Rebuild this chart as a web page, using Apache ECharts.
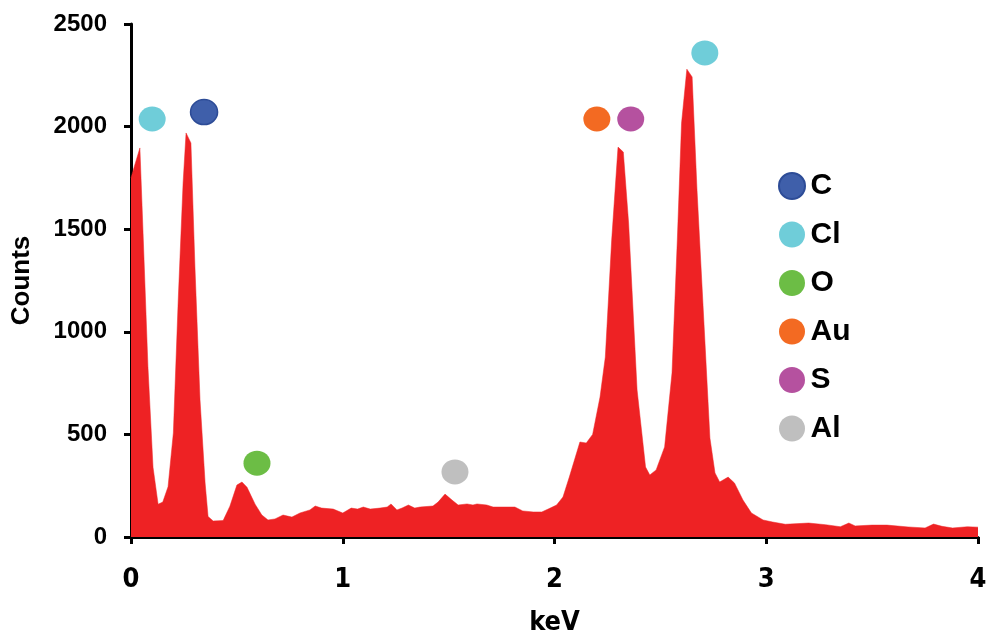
<!DOCTYPE html>
<html>
<head>
<meta charset="utf-8">
<script src="https://cdn.jsdelivr.net/npm/echarts@6/dist/echarts.min.js"></script>
<style>
html,body{margin:0;padding:0;background:#fff;}
#chart{width:989px;height:632px;}
</style>
</head>
<body>
<div id="chart"></div>
<script>
// Spectrum data
var kev = [0.0,0.014,0.042,0.057,0.08,0.104,0.128,0.15,0.175,0.2,0.223,0.246,0.26,0.283,0.302,0.326,0.35,0.364,0.388,0.435,0.467,0.5,0.524,0.548,0.586,0.618,0.647,0.68,0.718,0.76,0.798,0.845,0.87,0.9,0.955,1.0,1.04,1.07,1.097,1.13,1.176,1.21,1.228,1.256,1.28,1.31,1.34,1.365,1.426,1.45,1.483,1.516,1.545,1.587,1.615,1.634,1.68,1.71,1.757,1.813,1.85,1.9,1.94,1.97,2.01,2.04,2.07,2.12,2.15,2.18,2.215,2.24,2.27,2.30,2.325,2.35,2.39,2.43,2.45,2.48,2.52,2.555,2.58,2.60,2.625,2.65,2.673,2.71,2.734,2.758,2.78,2.82,2.85,2.89,2.93,2.985,3.03,3.09,3.2,3.28,3.35,3.39,3.42,3.5,3.57,3.67,3.75,3.79,3.83,3.88,3.95,4.0];
var counts = [1750,1800,1896,1480,830,340,160,170,245,507,1155,1725,1969,1920,1316,668,263,100,78,80,150,253,268,242,160,107,83,88,107,97,117,132,151,141,136,117,141,136,146,136,141,146,161,132,141,156,141,146,151,170,209,180,156,161,156,161,156,146,146,146,127,122,122,136,156,195,292,463,458,500,682,877,1447,1900,1876,1530,716,341,302,327,439,800,1447,2017,2280,2242,1691,960,482,312,268,292,263,180,117,83,73,62,68,60,50,68,54,58,58,49,44,63,52,44,50,48];

// Element markers (label positions)
var elements = ['C','Cl','O','Au','S','Al'];
var elementColors = ['#3F5FAA','#6FCDD9','#6CBD45','#F36A22','#B5519F','#BFBFBF'];
var markerKev = {C:[0.345], Cl:[0.10,2.71], O:[0.595], Au:[2.20], S:[2.36], Al:[1.53]};
var markerCounts = {C:[2071], Cl:[2037,2359], O:[360], Au:[2037], S:[2037], Al:[317]};

var xTicks = [0,1,2,3,4];
var yTicks = [0,500,1000,1500,2000,2500];

var FONT = '"Liberation Sans", Arial, sans-serif';
var NARROW = '"Liberation Sans Narrow", "Arial Narrow", "DejaVu Sans Condensed", "Liberation Sans", sans-serif';

var spectrum = kev.map(function(k,i){return [k, counts[i]];});

var series = [{
  type:'line',
  name:'spectrum',
  data: spectrum,
  showSymbol:false,
  symbol:'none',
  lineStyle:{color:'#EE2224', width:0.5},
  areaStyle:{color:'#EE2224', opacity:1},
  z:1,
  silent:true
}];
elements.forEach(function(el, idx){
  series.push({
    type:'scatter',
    name: el,
    data: markerKev[el].map(function(k,i){return [k, markerCounts[el][i]];}),
    symbol:'circle',
    symbolSize:[27,25],
    itemStyle:{
      color: elementColors[idx],
      opacity:1,
      borderColor: el==='C' ? '#2D4C97' : elementColors[idx],
      borderWidth: el==='C' ? 1.5 : 0
    },
    z:5
  });
});

var chart = echarts.init(document.getElementById('chart'), null, {renderer:'canvas'});
chart.setOption({
  animation:false,
  backgroundColor:'#ffffff',
  grid:{left:131, right:11, top:24, bottom:95, containLabel:false, outerBoundsMode:'none'},
  legend:{
    data: elements.map(function(e,i){return {name:e, icon:'circle'};}),
    orient:'vertical',
    left:778,
    top:171,
    padding:0,
    itemWidth:27,
    itemHeight:26,
    itemGap:18.5,
    textStyle:{fontFamily:FONT, fontWeight:'bold', fontSize:30, color:'#000', lineHeight:26},
    selectedMode:false
  },
  xAxis:{
    type:'value',
    min:0, max:4, interval:1,
    name:'keV',
    nameLocation:'middle',
    nameGap:72,
    nameTextStyle:{fontFamily:NARROW, fontWeight:'bold', fontSize:27, color:'#000'},
    axisLine:{show:true, onZero:false, lineStyle:{color:'#000', width:3}},
    axisTick:{show:true, length:7, lineStyle:{color:'#000', width:3}},
    axisLabel:{margin:29, fontFamily:NARROW, fontWeight:'bold', fontSize:27, color:'#000',
      formatter:function(v){return xTicks.indexOf(v)>=0 ? String(v) : '';}},
    splitLine:{show:false}
  },
  yAxis:{
    type:'value',
    min:0, max:2500, interval:500,
    name:'Counts',
    nameLocation:'middle',
    nameGap:96,
    nameRotate:90,
    nameTextStyle:{fontFamily:FONT, fontWeight:'bold', fontSize:26, color:'#000'},
    axisLine:{show:true, lineStyle:{color:'#000', width:3}},
    axisTick:{show:true, length:7, lineStyle:{color:'#000', width:3}},
    axisLabel:{margin:24, fontFamily:FONT, fontWeight:'bold', fontSize:24, color:'#000',
      formatter:function(v){return yTicks.indexOf(v)>=0 ? String(v) : '';}},
    splitLine:{show:false}
  },
  series: series
});
</script>
</body>
</html>
